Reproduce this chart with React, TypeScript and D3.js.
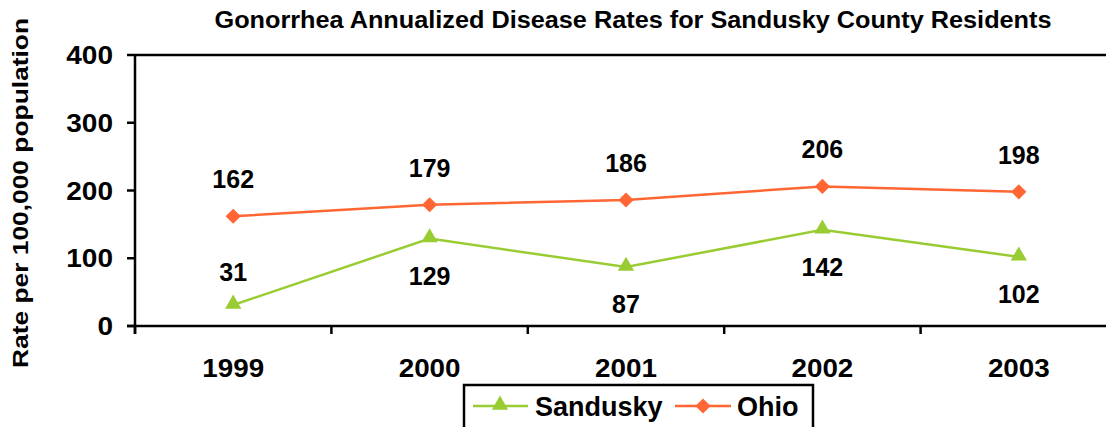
import React from "react";
import * as d3 from "d3";

const years = ["1999", "2000", "2001", "2002", "2003"];
const sandusky = [31, 129, 87, 142, 102];
const ohio = [162, 179, 186, 206, 198];
const yTicks = [0, 100, 200, 300, 400];
// label above (-1) or below (1) the marker
const sanduskyLabelSide = [-1, 1, 1, 1, 1];

const GREEN = "#99CC33";
const ORANGE = "#FF6633";
const FONT = "Liberation Sans, Arial, sans-serif";

export default function App() {
  const width = 1106;
  const height = 427;
  const left = 135;
  const top = 55;
  const bottom = 326;
  const band = 196.4;

  const x = d3
    .scaleBand()
    .domain(years)
    .range([left, left + band * years.length]);
  const y = d3.scaleLinear().domain([0, 400]).range([bottom, top]);
  const cx = (yr: string) => (x(yr) as number) + x.bandwidth() / 2;

  const line = d3
    .line<number>()
    .x((_, i) => cx(years[i]))
    .y((d) => y(d));

  const tri = d3.symbol().type(d3.symbolTriangle).size(115)() || "";
  const dia = d3.symbol().type(d3.symbolSquare).size(115)() || "";

  return (
    <svg
      width={width}
      height={height}
      style={{ position: "absolute", left: 0, top: 0, fontFamily: FONT }}
    >
      <rect width={width} height={height} fill="#fff" />
      <text
        x={633}
        y={28}
        textAnchor="middle"
        fontSize={23}
        fontWeight="bold"
        textLength={837}
        lengthAdjust="spacingAndGlyphs"
      >
        Gonorrhea Annualized Disease Rates for Sandusky County Residents
      </text>
      <text
        transform={`translate(28,193) rotate(-90)`}
        textAnchor="middle"
        fontSize={22}
        fontWeight="bold"
        textLength={350}
        lengthAdjust="spacingAndGlyphs"
      >
        Rate per 100,000 population
      </text>

      {/* frame */}
      <line x1={left} x2={width} y1={top} y2={top} stroke="#000" strokeWidth={2.5} />
      <line x1={left} x2={left} y1={top} y2={bottom + 8} stroke="#000" strokeWidth={2.5} />
      <line x1={left - 8} x2={width} y1={bottom} y2={bottom} stroke="#000" strokeWidth={2.5} />

      {yTicks.map((t) => (
        <g key={t}>
          <line x1={left - 8} x2={left} y1={y(t)} y2={y(t)} stroke="#000" strokeWidth={2.5} />
          <text
            transform={`translate(113,${y(t)}) scale(1.12,1)`}
            dy="0.36em"
            textAnchor="end"
            fontSize={25}
            fontWeight="bold"
          >
            {t}
          </text>
        </g>
      ))}
      {years.map((yr) => (
        <g key={yr}>
          <line
            x1={x(yr)}
            x2={x(yr)}
            y1={bottom}
            y2={bottom + 8}
            stroke="#000"
            strokeWidth={2.5}
          />
          <text
            transform={`translate(${cx(yr)},377) scale(1.07,1)`}
            textAnchor="middle"
            fontSize={26}
            fontWeight="bold"
          >
            {yr}
          </text>
        </g>
      ))}

      <path d={line(ohio) || ""} fill="none" stroke={ORANGE} strokeWidth={2.5} />
      <path d={line(sandusky) || ""} fill="none" stroke={GREEN} strokeWidth={2.5} />

      {ohio.map((v, i) => (
        <g key={"o" + i}>
          <path d={dia} transform={`translate(${cx(years[i])},${y(v)}) rotate(45)`} fill={ORANGE} />
          <text
            x={cx(years[i])}
            y={y(v) - 37}
            dy="0.36em"
            textAnchor="middle"
            fontSize={25}
            fontWeight="bold"
          >
            {v}
          </text>
        </g>
      ))}
      {sandusky.map((v, i) => (
        <g key={"s" + i}>
          <path d={tri} transform={`translate(${cx(years[i])},${y(v) - 1})`} fill={GREEN} />
          <text
            x={cx(years[i])}
            y={y(v) + (sanduskyLabelSide[i] < 0 ? -33 : 37)}
            dy="0.36em"
            textAnchor="middle"
            fontSize={25}
            fontWeight="bold"
          >
            {v}
          </text>
        </g>
      ))}

      {/* legend */}
      <rect x={464} y={385} width={349} height={60} fill="#fff" stroke="#000" strokeWidth={2.5} />
      <line x1={473} x2={528} y1={406} y2={406} stroke={GREEN} strokeWidth={2.5} />
      <path d={tri} transform="translate(500,405)" fill={GREEN} />
      <text x={535} y={406} dy="0.36em" fontSize={27} fontWeight="bold">
        Sandusky
      </text>
      <line x1={675} x2={731} y1={406} y2={406} stroke={ORANGE} strokeWidth={2.5} />
      <path d={dia} transform="translate(703,406) rotate(45)" fill={ORANGE} />
      <text x={737} y={406} dy="0.36em" fontSize={27} fontWeight="bold">
        Ohio
      </text>
    </svg>
  );
}
